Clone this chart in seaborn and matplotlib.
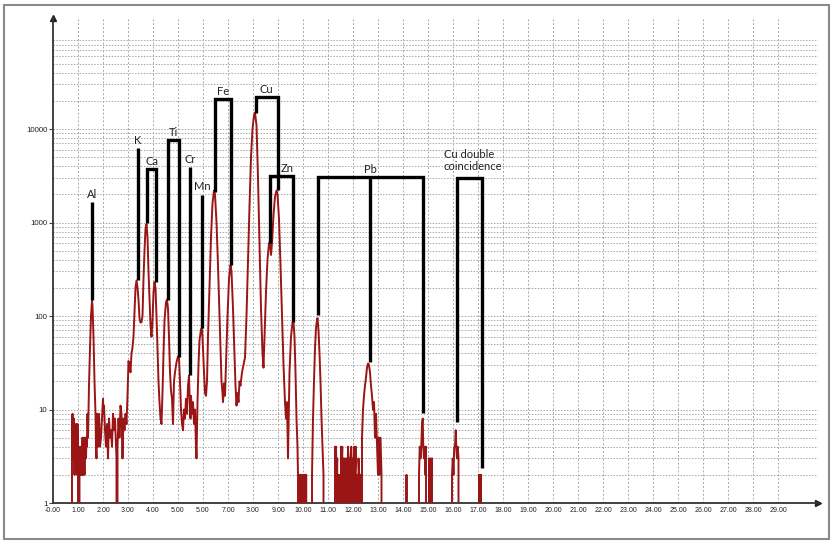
import numpy as np
import pandas as pd
import matplotlib
matplotlib.use("Agg")
import matplotlib.pyplot as plt
import matplotlib.ticker as mticker
from matplotlib.patches import Rectangle
import seaborn as sns

# ---------------- data ----------------
energy_kev = [
    0.70, 0.74, 0.76, 0.78, 0.80, 0.82, 0.84, 0.86, 0.88, 0.90, 0.92, 0.94, 0.96, 0.98, 1.00, 1.02, 1.04,
    1.06, 1.08, 1.10, 1.12, 1.14, 1.16, 1.18, 1.20, 1.22, 1.24, 1.26, 1.28, 1.30, 1.32, 1.34, 1.36, 1.38,
    1.40, 1.44, 1.48, 1.52, 1.56, 1.58, 1.62, 1.66, 1.70, 1.72, 1.74, 1.76, 1.78,
    1.80, 1.84, 1.88, 1.92, 1.96, 2.00, 2.02, 2.04, 2.08, 2.12, 2.16, 2.20, 2.24, 2.28, 2.32, 2.36, 2.40,
    2.44, 2.48, 2.52, 2.54, 2.56, 2.58, 2.62, 2.66, 2.70, 2.74, 2.78, 2.82, 2.86, 2.90, 2.94, 2.98,
    3.02, 3.06, 3.10, 3.14, 3.18, 3.22, 3.26, 3.30, 3.34, 3.38, 3.42, 3.46, 3.50, 3.54, 3.58,
    3.62, 3.66, 3.70, 3.74, 3.78, 3.82, 3.86, 3.90, 3.94, 3.98, 4.02, 4.06, 4.10, 4.14, 4.18, 4.22,
    4.26, 4.30, 4.34, 4.38, 4.42, 4.46, 4.52, 4.56, 4.60, 4.64, 4.68, 4.72, 4.76, 4.80, 4.84, 4.88,
    4.94, 5.00, 5.04, 5.08, 5.12, 5.16, 5.20, 5.24, 5.28, 5.32, 5.36, 5.40, 5.44, 5.46, 5.50, 5.52,
    5.56, 5.60, 5.64, 5.68, 5.72, 5.74, 5.78, 5.82, 5.86, 5.92, 5.96, 6.00, 6.04, 6.08, 6.12, 6.16,
    6.20, 6.26, 6.32, 6.38, 6.44, 6.48, 6.54, 6.60, 6.66, 6.70, 6.74, 6.78, 6.80, 6.84, 6.88, 6.92,
    6.98, 7.04, 7.10, 7.14, 7.20, 7.26, 7.30, 7.34, 7.38, 7.42, 7.46, 7.50, 7.56, 7.62, 7.68, 7.74,
    7.80, 7.86, 7.92, 7.98, 8.04, 8.08, 8.14, 8.20, 8.26, 8.32, 8.38, 8.42, 8.46, 8.52, 8.58, 8.64,
    8.68, 8.72, 8.76, 8.82, 8.88, 8.94, 8.98, 9.04, 9.10, 9.16, 9.22, 9.28, 9.32, 9.36, 9.40, 9.42,
    9.46, 9.52, 9.58, 9.62, 9.66, 9.70, 9.74, 9.78,
    9.80, 9.83, 9.85, 9.88, 9.90, 9.93, 9.95, 9.98, 10.00, 10.03, 10.05, 10.08, 10.10, 10.13, 10.15,
    10.36, 10.40, 10.44, 10.48, 10.52, 10.56, 10.58, 10.62, 10.66, 10.70, 10.74, 10.78, 10.82, 10.86,
    11.26, 11.28, 11.30, 11.32, 11.34, 11.37, 11.40, 11.42, 11.45, 11.48, 11.50, 11.52, 11.54, 11.57,
    11.60, 11.62, 11.65, 11.68, 11.70, 11.72, 11.75, 11.78, 11.80, 11.83, 11.86, 11.88, 11.90, 11.93,
    11.96, 11.98, 12.00, 12.03, 12.05, 12.08, 12.11, 12.14, 12.16, 12.19, 12.22, 12.25, 12.28, 12.31,
    12.34, 12.36, 12.40, 12.44, 12.48, 12.52, 12.56, 12.60, 12.64, 12.68, 12.72, 12.76, 12.80, 12.84,
    12.88, 12.92, 12.95, 13.00, 13.02, 13.06, 13.10, 13.14, 13.16,
    13.46, 13.48, 13.52, 13.54, 14.12, 14.14, 14.16, 14.18,
    14.60, 14.64, 14.67, 14.70, 14.73, 14.76, 14.79, 14.81, 14.84, 14.87, 14.90, 14.92, 14.95,
    15.02, 15.04, 15.07, 15.10, 15.13, 15.16, 15.20,
    15.94, 15.96, 15.99, 16.02, 16.05, 16.08, 16.11, 16.13, 16.16, 16.19, 16.22, 16.25,
    17.02, 17.04, 17.06, 17.08, 17.10, 17.12, 17.14, 17.20,
]
counts = [
    0, 0, 6, 9, 3, 5, 8, 2, 6, 3, 7, 4, 2, 7, 3, 0, 0,
    2, 4, 3, 2, 4, 2, 5, 2, 3, 5, 2, 5, 4, 3, 5, 4, 9,
    5, 18, 45, 100, 145, 130, 60, 20, 9, 4, 3, 9, 5,
    4, 9, 4, 5, 8, 13, 9, 11, 6, 4, 7, 3, 8, 5, 6, 4, 9,
    6, 8, 4, 3, 0, 4, 8, 5, 11, 9, 3, 8, 6, 9, 7, 14,
    33, 30, 25, 40, 46, 60, 110, 200, 240, 200, 150, 95, 85, 86, 100,
    250, 500, 850, 960, 700, 300, 150, 80, 60, 90, 180, 230, 200, 100, 45, 20,
    12, 8, 7, 15, 40, 90, 140, 150, 120, 60, 25, 16, 13, 7, 20, 25,
    32, 37, 36, 20, 10, 7, 6, 10, 8, 13, 9, 18, 23, 15, 8, 14,
    9, 12, 7, 10, 4, 3, 12, 30, 55, 72, 75, 45, 25, 15, 14, 20,
    60, 200, 700, 1600, 2200, 2000, 1000, 350, 100, 40, 20, 15, 12, 19, 14, 30,
    100, 250, 350, 300, 120, 40, 18, 11, 15, 12, 20, 18, 25, 30, 36, 100,
    400, 1500, 5000, 10000, 14000, 15000, 11000, 3000, 600, 120, 40, 28, 60, 180, 400, 600,
    620, 450, 600, 1200, 1900, 2200, 2000, 1100, 350, 100, 30, 12, 8, 12, 3, 6,
    25, 60, 85, 87, 60, 25, 8, 4,
    2, 0, 2, 0, 2, 0, 2, 0, 2, 0, 2, 0, 2, 2, 0,
    2, 8, 20, 45, 75, 90, 95, 70, 40, 20, 8, 4, 2, 0,
    0, 4, 0, 4, 2, 3, 0, 2, 0, 2, 0, 4, 2, 4,
    0, 3, 2, 3, 0, 2, 3, 0, 4, 2, 3, 0, 3, 4,
    2, 0, 3, 0, 4, 2, 4, 0, 2, 0, 3, 2, 0, 2,
    0, 5, 10, 14, 18, 22, 28, 31, 30, 25, 18, 14, 10, 12,
    5, 9, 5, 2, 5, 2, 5, 2, 0,
    0, 1, 1, 0, 0, 2, 0, 0,
    0, 2, 4, 3, 4, 7, 8, 4, 3, 4, 2, 4, 0,
    0, 3, 0, 3, 2, 3, 0,
    0, 2, 3, 2, 4, 4, 6, 4, 3, 4, 3, 0,
    0, 2, 0, 2, 0, 2, 0, 0,
]

x_tick_values = list(range(0, 30))
x_tick_labels = ["-0.00", "1.00", "2.00", "3.00", "4.00", "5.00", "5.00", "7.00", "3.00", "9.00",
                 "10.00", "11.00", "12.00", "13.00", "14.00", "15.00", "16.00", "17.00", "18.00",
                 "19.00", "20.00", "21.00", "22.00", "23.00", "24.00", "25.00", "26.00", "27.00",
                 "28.00", "29.00"]
y_tick_values = [1, 10, 100, 1000, 10000]
y_tick_labels = ["1", "10", "100", "1000", "10000"]

# single-line element markers
single_labels = ["Al", "K", "Cr", "Mn"]
single_x = [1.57, 3.39, 5.48, 5.97]
single_bottom = [148, 243, 23.4, 74]
single_top = [1660, 6300, 3880, 1990]

# bracket element markers
bracket_labels = ["Ca", "Ti", "Fe", "Cu", "Zn", "Pb"]
bracket_label_x = [3.95, 4.81, 6.80, 8.55, 9.36, 12.68]
bracket_left = [3.76, 4.59, 6.48, 8.12, 8.68, 10.59]
bracket_right = [4.13, 5.03, 7.13, 8.99, 9.59, 14.81]
bracket_left_bottom = [990, 148, 2130, 14700, 600, 102]
bracket_right_bottom = [232, 36.6, 350, 2230, 87, 9.1]
bracket_top = [3700, 7640, 21000, 22000, 3160, 3030]
pb_mid_x = 12.68
pb_mid_bottom = 32.5

# Cu double coincidence
coinc_label = "Cu double\ncoincidence"
coinc_label_x = 15.62
coinc_left = 16.15
coinc_right = 17.15
coinc_left_bottom = 7.4
coinc_right_bottom = 2.35
coinc_top = 3000

# ---------------- figure ----------------
sns.set_theme(style="white")
plt.rcParams["font.family"] = ["Lato", "DejaVu Sans"]

W, H = 833, 544
fig = plt.figure(figsize=(W / 100, H / 100), dpi=100)
fig.patch.set_facecolor("white")
ax = fig.add_axes([53 / W, 1 - 503 / H, (818 - 53) / W, (503 - 18) / H])

df = pd.DataFrame({"energy": energy_kev, "counts": counts})
sns.lineplot(data=df, x="energy", y="counts", estimator=None, sort=False,
             color="#9a1515", lw=1.4, ax=ax, zorder=3)

ax.set_yscale("log")
ax.set_xlim(0, 30.6)
ax.set_ylim(1, 10 ** ((503 - 18) / 93.5))

# grid
ax.set_xticks(x_tick_values)
ax.set_xticklabels(x_tick_labels, family="Liberation Sans", fontsize=5, color="#222222")
ax.set_yticks(y_tick_values)
ax.set_yticklabels(y_tick_labels, family="Liberation Sans", fontsize=5.7, color="#222222")
ax.yaxis.set_minor_locator(mticker.LogLocator(base=10, subs=(2, 3, 4, 5, 6, 7, 8, 9), numticks=20))
ax.yaxis.set_minor_formatter(mticker.NullFormatter())
ax.tick_params(axis="y", which="major", length=3, width=0.8, pad=1, color="#444444", left=True)
ax.tick_params(axis="y", which="minor", length=0)
ax.tick_params(axis="x", which="major", length=0, pad=3)
ax.grid(True, axis="y", which="both", color="#a8a8a8", lw=0.7, ls=(0, (1.5, 1.5)))
ax.grid(True, axis="x", which="major", color="#a8a8a8", lw=0.7, ls=(0, (2, 2)))
for gl, v in zip(ax.get_xgridlines(), x_tick_values):
    if v == 0:
        gl.set_visible(False)

for s in ["top", "right"]:
    ax.spines[s].set_visible(False)
for s in ["left", "bottom"]:
    ax.spines[s].set_color("#333333")
    ax.spines[s].set_linewidth(1.3)
ax.plot([0], [1], marker="^", color="#222222", ms=4, transform=ax.transAxes, clip_on=False)
ax.plot([1], [0], marker=">", color="#222222", ms=4, transform=ax.transAxes, clip_on=False)
ax.set_xlabel("")
ax.set_ylabel("")

# annotations
line_kw = dict(color="black", lw=2.4, solid_capstyle="butt", solid_joinstyle="miter", zorder=4)
text_kw = dict(fontsize=8, color="#222222", ha="center", va="bottom",
               textcoords="offset points", xytext=(0, 1.5))
for lab, x, yb, yt in zip(single_labels, single_x, single_bottom, single_top):
    ax.plot([x, x], [yb, yt], **line_kw)
    ax.annotate(lab, (x, yt), **text_kw)

for lab, lx, xl, xr, ylb, yrb, yt in zip(bracket_labels, bracket_label_x, bracket_left, bracket_right,
                                         bracket_left_bottom, bracket_right_bottom, bracket_top):
    ax.plot([xl, xl, xr, xr], [ylb, yt, yt, yrb], **line_kw)
    ax.annotate(lab, (lx, yt), **text_kw)
ax.plot([pb_mid_x, pb_mid_x], [pb_mid_bottom, bracket_top[5]], **line_kw)

ax.plot([coinc_left, coinc_left, coinc_right, coinc_right],
        [coinc_left_bottom, coinc_top, coinc_top, coinc_right_bottom], **line_kw)
ax.annotate(coinc_label, (coinc_label_x, coinc_top), fontsize=8, color="#222222", ha="left",
            va="bottom", textcoords="offset points", xytext=(0, 4), linespacing=1.15)

# outer frame
fig.patches.append(Rectangle((4 / W, 1 - 539 / H), 825 / W, 534 / H, transform=fig.transFigure,
                             fill=False, edgecolor="#8a8a8a", lw=1.5))

fig.savefig("out.png", dpi=100)
